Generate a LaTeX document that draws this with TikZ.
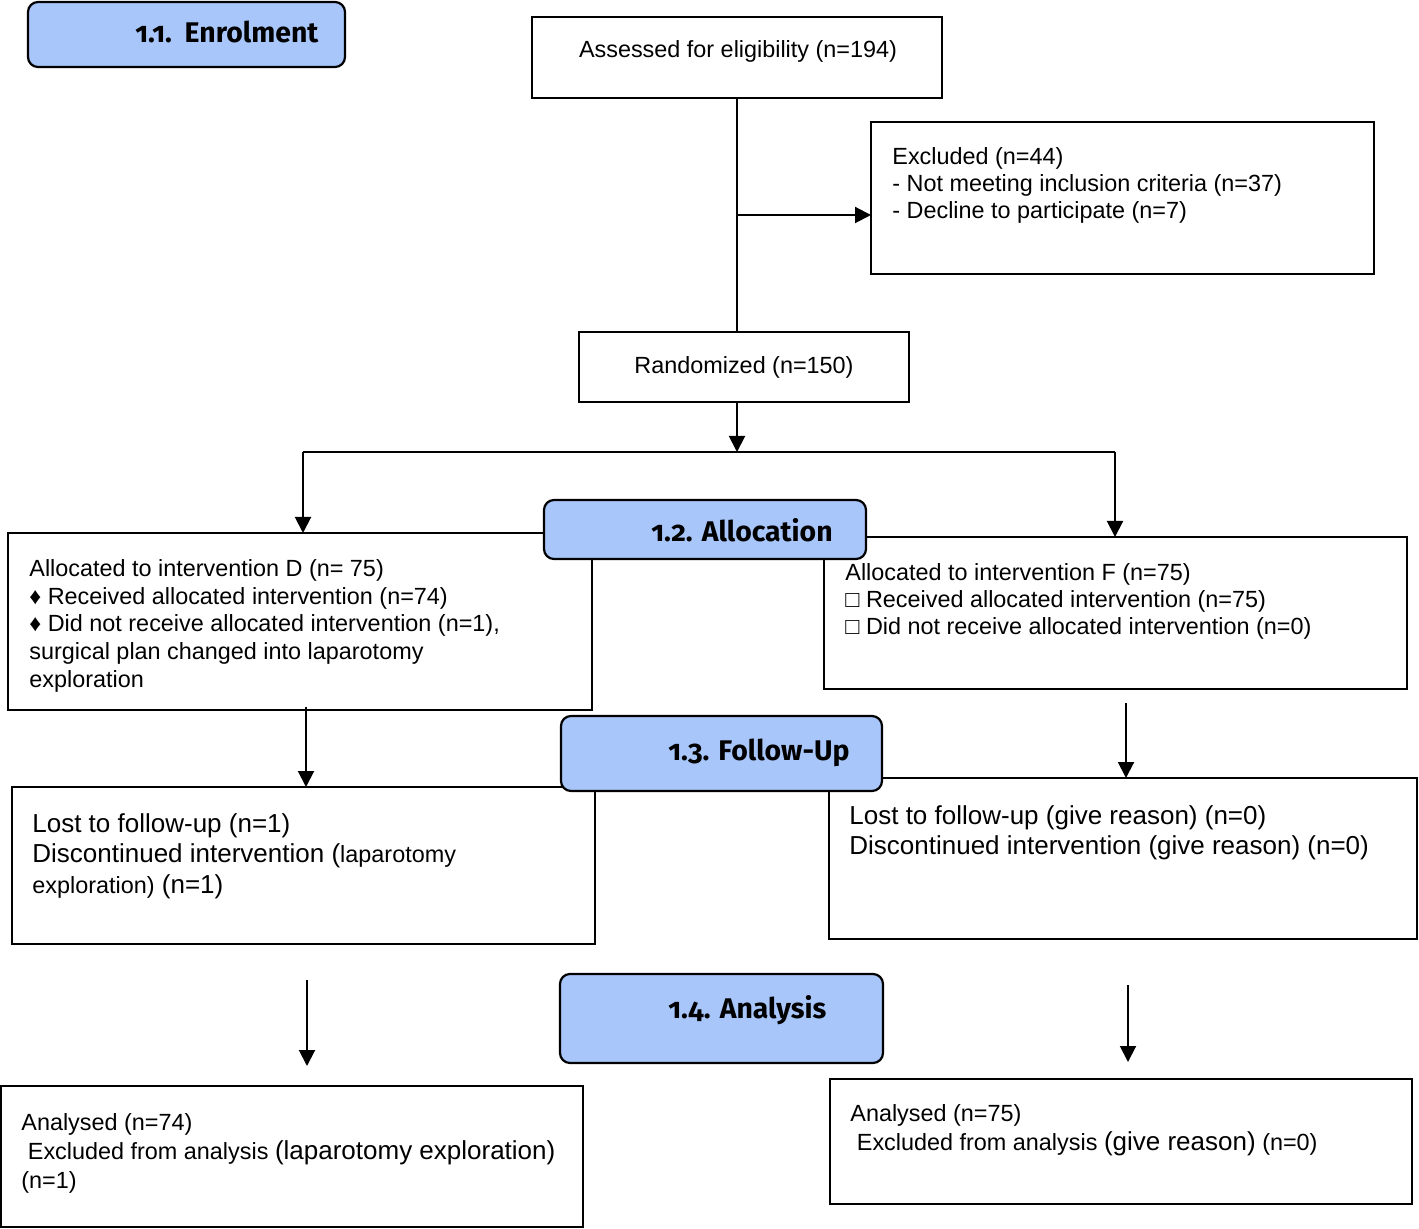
\documentclass[tikz,border=0pt]{standalone}
\usepackage{fontspec}
\setmainfont{Liberation Sans}
\newfontfamily\headfont[Numbers=OldStyle]{Fira Sans}
\usetikzlibrary{arrows.meta}
\definecolor{hdrblue}{HTML}{A8C6FA}
\begin{document}
\begin{tikzpicture}[x=0.5pt,y=-0.5pt,
  box/.style={draw=black, line width=1.1pt, inner sep=0pt, outer sep=0pt},
  hdr/.style={draw=black, line width=1.1pt, fill=hdrblue, rounded corners=5pt, inner sep=0pt, outer sep=0pt},
  hdrtxt/.style={font=\headfont\bfseries\fontsize{14.2}{16}\selectfont, anchor=base west, inner sep=0pt},
  txt/.style={font=\fontsize{11.7}{13.9}\selectfont, align=left, anchor=north west, inner sep=0pt},
  arr/.style={line width=1pt, -{Triangle[length=8pt,width=8pt]}},
  conn/.style={line width=1pt}
]
\useasboundingbox (0,0) rectangle (1419,1229);

% boxes
\node[box, minimum width=205pt, minimum height=40.5pt] (assess) at (737,57.5) {};
\node[box, minimum width=251.5pt, minimum height=76pt] (excl) at (1122.5,198) {};
\node[box, minimum width=165pt, minimum height=35pt] (rand) at (744,367) {};
\node[box, minimum width=292pt, minimum height=88.5pt] (allocD) at (300,621.5) {};
\node[box, minimum width=291.5pt, minimum height=76pt] (allocF) at (1115.5,613) {};
\node[box, minimum width=291.5pt, minimum height=78.5pt] (lostD) at (303.5,865.5) {};
\node[box, minimum width=294pt, minimum height=80.5pt] (lostF) at (1123,858.5) {};
\node[box, minimum width=291pt, minimum height=70.5pt] (anaD) at (292,1156.5) {};
\node[box, minimum width=291pt, minimum height=62.5pt] (anaF) at (1121,1141.5) {};

% connectors
\draw[conn] (assess.south) -- (assess.south |- rand.north);
\coordinate (br) at (737,215);
\draw[arr] (br) -- (br -| excl.west);
\coordinate (split) at (737,452);
\draw[arr] (split |- rand.south) -- (split);
\coordinate (sl) at (303,452);
\coordinate (sr) at (1115,452);
\draw[conn] (sl) -- (sr);
\draw[arr] (sl) -- (sl |- allocD.north);
\draw[arr] (sr) -- (sr |- allocF.north);
\coordinate (d1) at (306,707);
\draw[arr] (d1) -- (d1 |- lostD.north);
\coordinate (f1) at (1126,703);
\draw[arr] (f1) -- (f1 |- lostF.north);
\coordinate (d2a) at (307,980);
\coordinate (d2b) at (307,1066);
\draw[arr] (d2a) -- (d2b);
\coordinate (f2a) at (1128,985);
\coordinate (f2b) at (1128,1062);
\draw[arr] (f2a) -- (f2b);

% header boxes
\node[hdr, minimum width=158.5pt, minimum height=32.5pt] (enrolH) at (186.5,34.5) {};
\node[hdr, minimum width=161pt, minimum height=29.5pt] (allocH) at (705,529.5) {};
\node[hdr, minimum width=160.5pt, minimum height=37.5pt] (followH) at (721.5,753.5) {};
\node[hdr, minimum width=161.5pt, minimum height=44.5pt] (anaH) at (721.5,1018.5) {};
\node[hdrtxt] (enrolT) at (135,43) {1.1.\hspace{0.45em}Enrolment};
\node[hdrtxt] (allocT) at (651,542) {1.2. Allocation};
\node[hdrtxt] (followT) at (668,760) {1.3. Follow-Up};
\node[hdrtxt] (anaT) at (668,1018) {1.4. Analysis};

% texts
\node[font=\fontsize{11.7}{13.9}\selectfont, inner sep=0pt] (assessT) at (738,51) {Assessed for eligibility (n=194)};
\node[txt, font=\fontsize{11.7}{13.5}\selectfont] (exclT) at (892,147) {Excluded (n=44)\\- Not meeting inclusion criteria (n=37)\\- Decline to participate (n=7)};
\node[font=\fontsize{11.7}{13.9}\selectfont, inner sep=0pt] (randT) at (744,367) {Randomized (n=150)};
\node[txt] (allocDT) at (29,559) {Allocated to intervention D (n= 75)\\♦ Received allocated intervention (n=74)\\♦ Did not receive allocated intervention (n=1),\\surgical plan changed into laparotomy\\exploration};
\node[txt, font=\fontsize{11.7}{13.5}\selectfont] (allocFT) at (845,563) {Allocated to intervention F (n=75)\\□ Received allocated intervention (n=75)\\□ Did not receive allocated intervention (n=0)};
\node[txt, font=\fontsize{13}{15.25}\selectfont] (lostDT) at (32,813) {Lost to follow-up (n=1)\\Discontinued intervention ({\fontsize{11.7}{13.9}\selectfont laparotomy}\\{\fontsize{11.7}{13.9}\selectfont exploration)} (n=1)};
\node[txt, font=\fontsize{13}{15}\selectfont] (lostFT) at (849,805) {Lost to follow-up (give reason) (n=0)\\Discontinued intervention (give reason) (n=0)};
\node[txt, font=\fontsize{11.7}{14.5}\selectfont] (anaDT) at (21,1113) {Analysed (n=74)\\\ Excluded from analysis {\fontsize{13}{14.5}\selectfont (laparotomy exploration)}\\(n=1)};
\node[txt, font=\fontsize{11.7}{14.5}\selectfont] (anaFT) at (850,1104) {Analysed (n=75)\\\ Excluded from analysis {\fontsize{13}{14.5}\selectfont (give reason)} (n=0)};
\end{tikzpicture}
\end{document}
